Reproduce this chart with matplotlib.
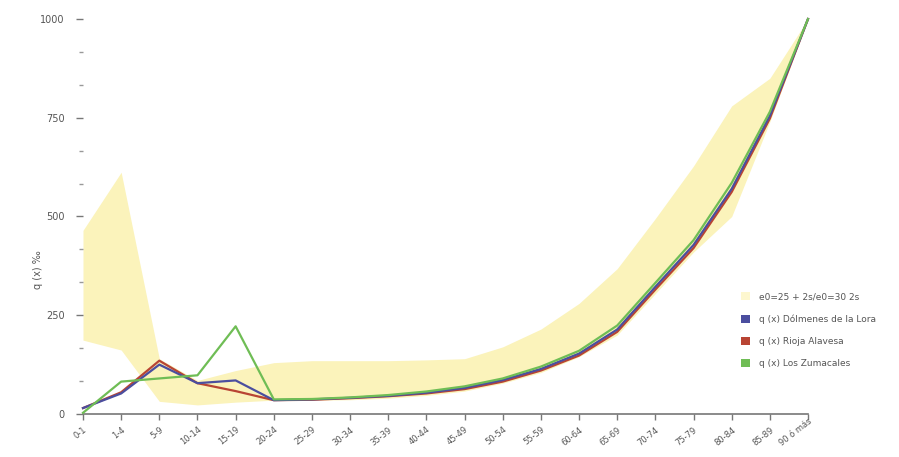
import matplotlib
matplotlib.use("Agg")
import matplotlib.pyplot as plt
import numpy as np
from matplotlib.patches import Patch

# age groups
ages = ['0-1', '1-4', '5-9', '10-14', '15-19', '20-24', '25-29', '30-34', '35-39', '40-44',
        '45-49', '50-54', '55-59', '60-64', '65-69', '70-74', '75-79', '80-84', '85-89', '90 ó más']

# model band e0=25 + 2s / e0=30 2s
band_upper = [465, 612, 140, 85, 110, 130, 135, 135, 135, 137, 140, 170, 215, 280, 368, 495, 628, 780, 850, 1000]
band_lower = [187, 162, 32, 23, 30, 35, 35, 36, 40, 47, 58, 78, 105, 145, 200, 305, 410, 500, 740, 1000]

# q(x) per mil
q_dolmenes = [15, 52, 125, 78, 85, 35, 37, 41, 46, 54, 66, 86, 114, 153, 214, 322, 428, 570, 755, 1000]
q_rioja = [15, 55, 135, 78, 58, 35, 36, 40, 45, 52, 63, 82, 110, 148, 208, 315, 420, 562, 748, 1000]
q_zumacales = [3, 82, 90, 98, 222, 37, 38, 42, 48, 57, 70, 90, 120, 160, 224, 332, 440, 585, 765, 1000]

band_label = 'e0=25 + 2s/e0=30 2s'
series_labels = ['q (x) Dólmenes de la Lora', 'q (x) Rioja Alavesa', 'q (x) Los Zumacales']

BAND = '#fbf3bb'
BLUE = '#4b4e9f'
RED = '#b84433'
GREEN = '#6fbd55'
GREY = '#555555'

fig = plt.figure(figsize=(8.99, 4.57), dpi=100)
ax = fig.add_axes([83 / 899, 43 / 457, 725 / 899, 395 / 457])

x = np.arange(len(ages))
ax.fill_between(x, band_lower, band_upper, color=BAND, linewidth=0, zorder=1)
ax.plot(x, q_rioja, color=RED, lw=1.6, zorder=3, clip_on=False)
ax.plot(x, q_dolmenes, color=BLUE, lw=1.6, zorder=4, clip_on=False)
ax.plot(x, q_zumacales, color=GREEN, lw=1.6, zorder=5, clip_on=False)

ax.set_xlim(0, len(ages) - 1)
ax.set_ylim(0, 1000)

for side in ['top', 'right', 'left']:
    ax.spines[side].set_visible(False)
ax.spines['bottom'].set_color('#777777')
ax.spines['bottom'].set_linewidth(1.2)

ax.set_xticks(x)
ax.set_xticklabels(ages, rotation=38, ha='right', rotation_mode='anchor',
                   fontsize=6, color=GREY)
ax.set_yticks([0, 250, 500, 750, 1000])
ax.set_yticks(np.arange(0, 1001, 250 / 3), minor=True)
ax.tick_params(axis='y', which='major', length=5, width=1, color='#777777',
               labelsize=7, labelcolor=GREY, pad=8)
ax.tick_params(axis='y', which='minor', length=3, width=1, color='#999999')
ax.tick_params(axis='x', length=4, width=1, color='#777777', pad=4)
# last label sits a bit higher, as in the source chart
ax.get_xticklabels()[-1].set_y(0.02)

ax.set_ylabel('q (x) ‰', fontsize=7, color=GREY)
ax.yaxis.set_label_coords(-0.055, 0.365)

handles = [Patch(facecolor='#fdf7cf', edgecolor='none'),
           Patch(facecolor=BLUE, edgecolor='none'),
           Patch(facecolor=RED, edgecolor='none'),
           Patch(facecolor=GREEN, edgecolor='none')]
fig.legend(handles, [band_label] + series_labels, loc='upper left',
           bbox_to_anchor=(733 / 899, 1 - 284 / 457), frameon=False,
           fontsize=6.5, labelcolor=GREY, handlelength=1.0, handleheight=1.0,
           handletextpad=1.0, labelspacing=1.45)

fig.savefig('out.png', dpi=100)
